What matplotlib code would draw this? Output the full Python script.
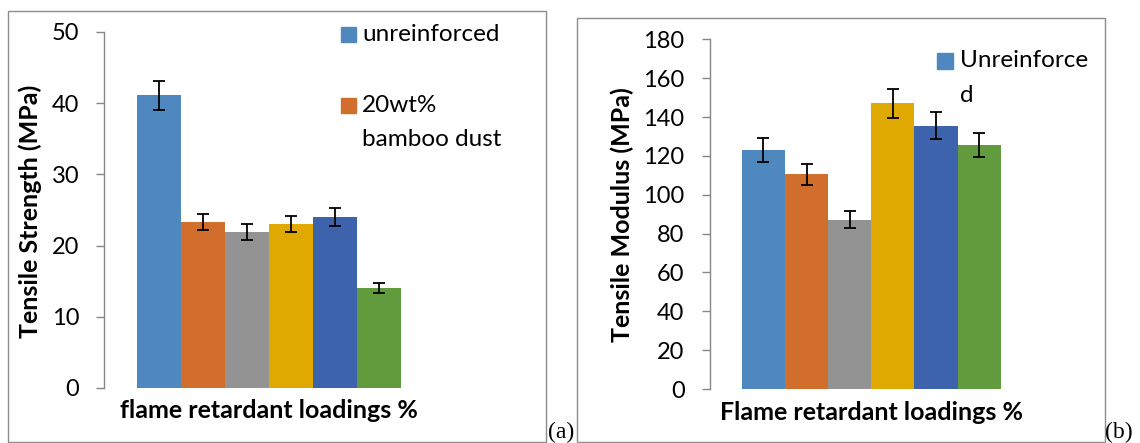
import matplotlib
matplotlib.use("Agg")
import matplotlib.pyplot as plt
from matplotlib.patches import Rectangle

plt.rcParams['font.family'] = ['Lato', 'DejaVu Sans']

# data
loadings = ['unreinforced', '20wt%\nbamboo dust', '3', '4', '5', '6']
colors = ['#4F88BE', '#D26E2B', '#939393', '#E0A902', '#3D63AD', '#629B3E']

strength = [41.1, 23.3, 21.9, 23.0, 24.0, 14.0]
strength_err = [2.0, 1.15, 1.1, 1.15, 1.3, 0.7]

modulus = [122.8, 110.5, 87.2, 147.0, 135.6, 125.4]
modulus_err = [6.2, 5.5, 4.4, 7.3, 6.8, 6.2]

W, H = 1140, 443
fig = plt.figure(figsize=(W / 100, H / 100), dpi=100)


def fx(x):
    return x / W


def fy(y):
    return 1 - y / H


def panel_box(x0, y0, x1, y1):
    fig.patches.append(Rectangle((fx(x0), fy(y1)), fx(x1 - x0), (y1 - y0) / H,
                                 transform=fig.transFigure, fill=False,
                                 edgecolor='#8c8c8c', linewidth=1.0))


def bar_panel(rect, values, errs, ymax, step, ylabel, xlabel):
    ax = fig.add_axes(rect)
    n = len(values)
    width = 1.0 / (n + 1.5)
    start = -n * width / 2 + width / 2
    for i, (v, e) in enumerate(zip(values, errs)):
        ax.bar(start + i * width, v, width=width, color=colors[i], linewidth=0)
        ax.errorbar(start + i * width, v, yerr=e, color='black', capsize=4.3,
                    elinewidth=1.3, capthick=1.3, fmt='none')
    ax.set_xlim(-0.5, 0.5)
    ax.set_ylim(0, ymax)
    ax.set_yticks(range(0, ymax + 1, step))
    ax.set_xticks([])
    for s in ['top', 'right', 'bottom']:
        ax.spines[s].set_visible(False)
    ax.spines['left'].set_color('#868686')
    ax.spines['left'].set_linewidth(1.0)
    ax.tick_params(axis='y', length=6, width=1.0, color='#868686',
                   labelsize=17, pad=12)
    ax.set_ylabel(ylabel, fontsize=18, fontweight='bold')
    ax.set_xlabel(xlabel, fontsize=18, fontweight='bold')
    ax.patch.set_alpha(0)
    return ax


# panel (a)
panel_box(8, 11, 546, 442)
ax1 = bar_panel([fx(104.5), fy(388), fx(434) - fx(104.5), (388 - 32) / H],
                strength, strength_err, 50, 10,
                'Tensile Strength (MPa)', 'flame retardant loadings %')
ax1.yaxis.set_label_coords(fx(30), fy(211), transform=fig.transFigure)
ax1.yaxis.label.set_va('center')
ax1.xaxis.set_label_coords(fx(269), fy(410), transform=fig.transFigure)
ax1.xaxis.label.set_va('center')

# legend (a): only first two entries visible
fig.patches.append(Rectangle((fx(341), fy(42)), 15 / W, 15 / H,
                             transform=fig.transFigure, color=colors[0]))
fig.text(fx(362), fy(34.5), loadings[0], fontsize=17.5, va='center')
fig.patches.append(Rectangle((fx(341), fy(113)), 15 / W, 15 / H,
                             transform=fig.transFigure, color=colors[1]))
fig.text(fx(362), fy(106), '20wt%', fontsize=17.5, va='center')
fig.text(fx(362), fy(139), 'bamboo dust', fontsize=17.5, va='center')

# panel (b)
panel_box(577, 18, 1105, 442)
ax2 = bar_panel([fx(709.5), fy(389), fx(1033) - fx(709.5), (389 - 39.3) / H],
                modulus, modulus_err, 180, 20,
                'Tensile Modulus (MPa)', 'Flame retardant loadings %')
ax2.yaxis.set_label_coords(fx(622), fy(215), transform=fig.transFigure)
ax2.yaxis.label.set_va('center')
ax2.xaxis.set_label_coords(fx(872), fy(412), transform=fig.transFigure)
ax2.xaxis.label.set_va('center')

fig.patches.append(Rectangle((fx(937), fy(68.5)), 16 / W, 15 / H,
                             transform=fig.transFigure, color=colors[0]))
fig.text(fx(960), fy(60.5), 'Unreinforce', fontsize=17.5, va='center')
fig.text(fx(960), fy(95), 'd', fontsize=17.5, va='center')

# sub-figure tags
fig.text(fx(548), fy(443), '(a)', fontsize=17, family='Liberation Serif', va='bottom')
fig.text(fx(1105), fy(443), '(b)', fontsize=17, family='Liberation Serif', va='bottom')

fig.savefig('out.png', dpi=100)
